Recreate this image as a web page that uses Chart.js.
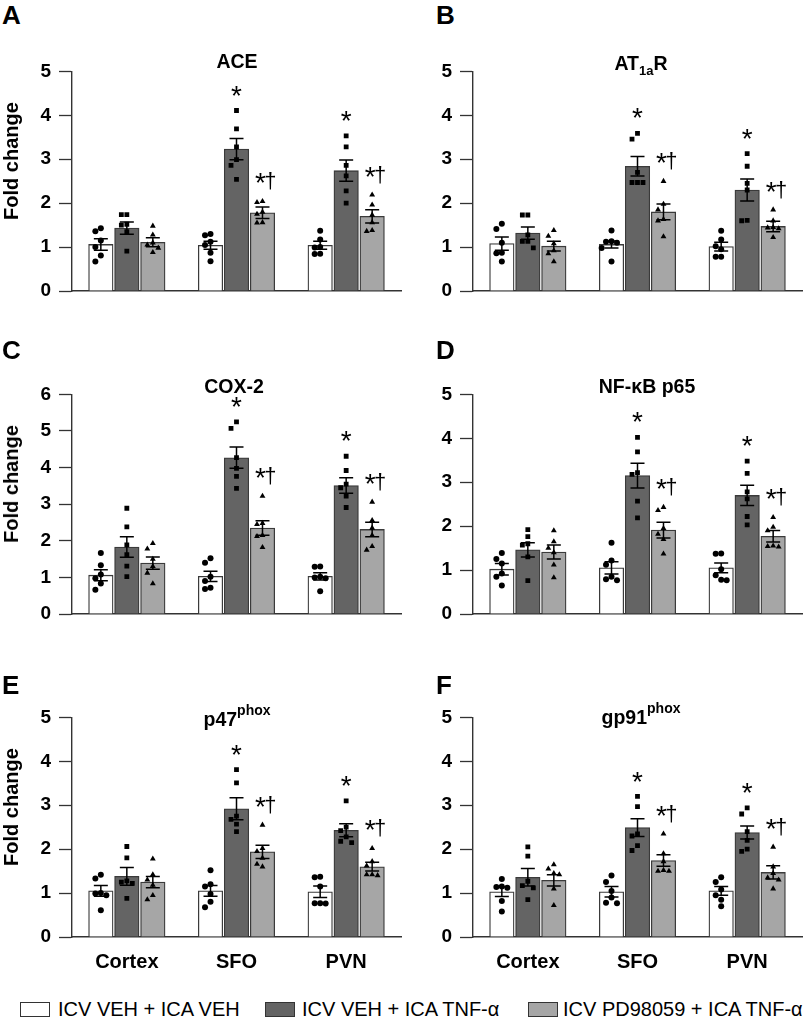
<!DOCTYPE html>
<html>
<head>
<meta charset="utf-8">
<script src="https://cdn.jsdelivr.net/npm/chart.js@4.4.1/dist/chart.umd.min.js"></script>
<style>
  body { margin:0; background:#fff; width:810px; height:1023px; position:relative; overflow:hidden;
         font-family:"Liberation Sans", Arial, sans-serif; color:#000; }
  canvas { position:absolute; }
  .letter { position:absolute; font-weight:bold; font-size:26px; line-height:26px; }
  .ttl { position:absolute; font-weight:bold; font-size:19.5px; line-height:20px; transform:translateX(-50%); white-space:nowrap; }
  .ttl sup { font-size:14px; position:relative; top:1px; vertical-align:top; line-height:0; }
  .ttl sub { font-size:13px; position:relative; top:5px; vertical-align:baseline; line-height:0; }
  .ylab { position:absolute; font-weight:bold; font-size:20px; line-height:20px; white-space:nowrap;
          transform:translate(-50%,-50%) rotate(-90deg); }
  .lg { position:absolute; font-size:20px; line-height:20px; white-space:nowrap; top:999px; }
  .box { position:absolute; box-sizing:border-box; width:30px; height:15px; border:1.5px solid #333; top:1002px; }
</style>
</head>
<body>
<script>
// ---- data ----
const regions = ['Cortex', 'SFO', 'PVN'];
const groups = ['ICV VEH + ICA VEH', 'ICV VEH + ICA TNF-α', 'ICV PD98059 + ICA TNF-α'];
const yMax = [5, 5, 6, 5, 5, 5];
const sigMarks = [['', '', ''], ['', '*', '*'], ['', '*†', '*†']];

// [group][region]
const aceMean = [[1.06, 1.04, 1.04], [1.43, 3.23, 2.74], [1.11, 1.78, 1.70]];
const aceSem  = [[0.13, 0.09, 0.09], [0.14, 0.24, 0.24], [0.10, 0.13, 0.15]];
const acePts = [
  [[1.43, 1.36, 1.15, 1.0, 0.81, 0.67], [1.3, 1.27, 1.12, 1.05, 0.87, 0.68], [1.37, 1.17, 1.0, 0.99, 0.85, 0.84]],
  [[1.74, 1.74, 1.52, 1.5, 1.35, 0.91], [4.11, 3.69, 3.28, 2.99, 2.86, 2.54], [3.53, 3.28, 2.86, 2.62, 2.28, 2.0]],
  [[1.48, 1.28, 1.1, 1.05, 0.98, 0.88], [2.04, 2.02, 1.8, 1.75, 1.56, 1.55], [2.19, 1.96, 1.73, 1.56, 1.38, 1.36]]
];

const at1Mean = [[1.08, 1.06, 1.01], [1.32, 2.84, 2.30], [1.02, 1.80, 1.47]];
const at1Sem  = [[0.15, 0.08, 0.10], [0.14, 0.22, 0.25], [0.11, 0.18, 0.12]];
const at1Pts = [
  [[1.53, 1.41, 1.1, 0.87, 0.86, 0.67], [1.38, 1.13, 1.12, 1.1, 0.98, 0.67], [1.37, 1.17, 1.02, 0.95, 0.78, 0.78]],
  [[1.73, 1.73, 1.28, 1.13, 1.13, 0.98], [3.59, 3.46, 2.7, 2.47, 2.47, 2.47], [3.13, 2.84, 2.45, 2.3, 1.61, 1.6]],
  [[1.38, 1.25, 1.08, 0.92, 0.85, 0.67], [2.5, 1.98, 1.85, 1.63, 1.6, 1.24], [1.85, 1.6, 1.45, 1.44, 1.42, 1.22]]
];

const coxMean = [[1.06, 1.03, 1.03], [1.83, 4.27, 3.51], [1.39, 2.35, 2.31]];
const coxSem  = [[0.15, 0.14, 0.10], [0.28, 0.29, 0.21], [0.17, 0.20, 0.20]];
const coxPts = [
  [[1.67, 1.33, 1.08, 0.98, 0.83, 0.66], [1.52, 1.4, 1.02, 0.9, 0.72, 0.68], [1.3, 1.29, 1.02, 1.0, 0.98, 0.62]],
  [[2.89, 2.38, 1.89, 1.62, 1.31, 1.02], [5.25, 5.07, 4.27, 3.98, 3.76, 3.43], [4.31, 3.92, 3.55, 3.45, 3.22, 2.91]],
  [[1.93, 1.78, 1.5, 1.3, 1.12, 0.83], [3.22, 2.48, 2.45, 2.15, 2.12, 1.82], [3.06, 2.56, 2.35, 2.15, 1.85, 1.75]]
];

const nfkMean = [[1.02, 1.05, 1.05], [1.46, 3.15, 2.70], [1.41, 1.91, 1.77]];
const nfkSem  = [[0.13, 0.14, 0.11], [0.16, 0.28, 0.23], [0.16, 0.18, 0.13]];
const nfkPts = [
  [[1.39, 1.25, 1.15, 0.92, 0.85, 0.65], [1.62, 1.22, 1.12, 0.85, 0.79, 0.77], [1.38, 1.37, 1.02, 0.88, 0.78, 0.77]],
  [[1.92, 1.76, 1.6, 1.57, 1.3, 0.76], [4.02, 3.69, 3.22, 3.18, 2.57, 2.19], [3.48, 3.2, 2.78, 2.62, 2.22, 2.03]],
  [[1.9, 1.65, 1.5, 1.4, 1.12, 0.83], [2.43, 2.36, 1.95, 1.82, 1.7, 1.37], [2.2, 1.98, 1.9, 1.55, 1.54, 1.53]]
];

const p47Mean = [[1.05, 1.05, 1.03], [1.38, 2.92, 2.43], [1.25, 1.94, 1.60]];
const p47Sem  = [[0.12, 0.12, 0.13], [0.20, 0.25, 0.15], [0.13, 0.15, 0.10]];
const p47Pts = [
  [[1.42, 1.33, 1.0, 0.99, 0.95, 0.61], [1.52, 1.2, 1.15, 0.98, 0.8, 0.68], [1.37, 1.36, 1.15, 0.77, 0.77, 0.76]],
  [[2.06, 1.8, 1.28, 1.25, 1.22, 0.88], [3.81, 3.51, 2.75, 2.68, 2.57, 2.4], [3.1, 2.5, 2.42, 2.28, 2.18, 2.15]],
  [[1.78, 1.42, 1.3, 1.18, 0.95, 0.85], [2.55, 2.02, 1.95, 1.8, 1.66, 1.6], [2.02, 1.72, 1.62, 1.42, 1.42, 1.4]]
];

const gp91Mean = [[1.03, 1.03, 1.05], [1.36, 2.49, 2.38], [1.29, 1.74, 1.47]];
const gp91Sem  = [[0.11, 0.12, 0.10], [0.20, 0.20, 0.15], [0.13, 0.13, 0.15]];
const gp91Pts = [
  [[1.32, 1.15, 1.14, 1.12, 0.82, 0.58], [1.4, 1.25, 1.05, 0.9, 0.78, 0.77], [1.36, 1.25, 1.08, 0.95, 0.85, 0.7]],
  [[2.05, 1.84, 1.27, 1.17, 1.12, 0.85], [3.2, 2.97, 2.35, 2.3, 2.08, 1.97], [2.94, 2.8, 2.4, 2.2, 2.0, 1.95]],
  [[1.65, 1.55, 1.45, 1.42, 1.1, 0.72], [2.35, 1.9, 1.72, 1.52, 1.5, 1.5], [2.05, 1.6, 1.45, 1.35, 1.3, 1.1]]
];

// ---- styling / layout ----
const fills = ['#ffffff', '#646464', '#a6a6a6'];
const shapes = ['circle', 'rect', 'triangle'];
const radii = [3, 3.4, 3.4];
const SLOT = 0.237;          // distance between neighbouring bars, in category units
const BAR_PX = 24.5;         // bar thickness
const PAD_T = 14, PLOT_H = 225, XAX_H = 45;
const FONT = '"Liberation Sans", Arial';

const panels = [
  { key: 'A', title: 'ACE', mean: aceMean, sem: aceSem, pts: acePts, ymax: yMax[0],
    left: 0, top: 66, axisL: 72, axisR: 403, tx: 237, tb: 68, ylab: true, xlab: false },
  { key: 'B', title: 'AT<sub>1a</sub>R', mean: at1Mean, sem: at1Sem, pts: at1Pts, ymax: yMax[1],
    left: 405, top: 66, axisL: 473, axisR: 802, tx: 641, tb: 70, ylab: false, xlab: false },
  { key: 'C', title: 'COX-2', mean: coxMean, sem: coxSem, pts: coxPts, ymax: yMax[2],
    left: 0, top: 389, axisL: 72, axisR: 403, tx: 234, tb: 393, ylab: true, xlab: false },
  { key: 'D', title: 'NF-κB p65', mean: nfkMean, sem: nfkSem, pts: nfkPts, ymax: yMax[3],
    left: 405, top: 389, axisL: 473, axisR: 802, tx: 647, tb: 393, ylab: false, xlab: false },
  { key: 'E', title: 'p47<sup>phox</sup>', mean: p47Mean, sem: p47Sem, pts: p47Pts, ymax: yMax[4],
    left: 0, top: 712, axisL: 72, axisR: 403, tx: 237, tb: 726, ylab: true, xlab: true },
  { key: 'F', title: 'gp91<sup>phox</sup>', mean: gp91Mean, sem: gp91Sem, pts: gp91Pts, ymax: yMax[5],
    left: 405, top: 712, axisL: 473, axisR: 802, tx: 641, tb: 724, ylab: false, xlab: true }
];

// bar centre for group g in region r (linear units, region r sits at r)
const barX = (g, r) => r + (g - 1) * SLOT;

// spread points of one bar sideways so they don't sit on top of each other
function swarm(vals, g, ymax) {
  const cand = [0, -0.05, 0.05, -0.09, 0.09];
  const out = [];
  vals.forEach((list, r) => {
    const here = [];
    list.forEach(v => {
      let dx = cand.find(c => here.every(q => Math.abs(q.y - v) > 0.03 * ymax || Math.abs(q.dx - c) > 0.035));
      if (dx === undefined) dx = 0;
      here.push({ y: v, dx: dx });
      out.push({ x: barX(g, r) + dx, y: v });
    });
  });
  return out;
}

const errorBars = {
  id: 'errorBars',
  afterDatasetDraw(chart, args) {
    const ds = chart.data.datasets[args.index];
    if (!ds.sem) return;
    const y = chart.scales.y, ctx = chart.ctx;
    ctx.save();
    ctx.strokeStyle = '#000';
    ctx.lineWidth = 1.5;
    args.meta.data.forEach((bar, i) => {
      const m = ds.data[i].y;
      const yt = y.getPixelForValue(m + ds.sem[i]);
      const yb = y.getPixelForValue(m - ds.sem[i]);
      ctx.beginPath();
      ctx.moveTo(bar.x, yt); ctx.lineTo(bar.x, yb);
      ctx.moveTo(bar.x - 7, yt); ctx.lineTo(bar.x + 7, yt);
      ctx.moveTo(bar.x - 7, yb); ctx.lineTo(bar.x + 7, yb);
      ctx.stroke();
    });
    ctx.restore();
  }
};

const sigLabels = {
  id: 'sigLabels',
  afterDatasetsDraw(chart) {
    const y = chart.scales.y, ctx = chart.ctx;
    ctx.save();
    ctx.fillStyle = '#000';
    ctx.textAlign = 'center';
    ctx.textBaseline = 'alphabetic';
    chart.data.datasets.forEach((ds, di) => {
      if (!ds.marks) return;
      const meta = chart.getDatasetMeta(di);
      ds.marks.forEach((m, i) => {
        if (!m) return;
        const bx = meta.data[i].x;
        const top = Math.max(...ds.pts[i]);
        const cy = y.getPixelForValue(top) - (m.length > 1 ? 24 : 21);
        const starTop = cy - 5;
        ctx.font = '28px ' + FONT;
        ctx.fillText('*', m.length > 1 ? bx - 2 : bx, starTop + 0.716 * 28);
        if (m.length > 1) {
          ctx.font = '22px ' + FONT;
          ctx.fillText('†', bx + 8, starTop + 0.716 * 22);
        }
      });
    });
    ctx.restore();
  }
};

function addDiv(cls, html, css) {
  const d = document.createElement('div');
  d.className = cls;
  d.innerHTML = html;
  Object.assign(d.style, css);
  document.body.appendChild(d);
  return d;
}

panels.forEach(p => {
  const cv = document.createElement('canvas');
  cv.width = 405;
  cv.height = PAD_T + PLOT_H + XAX_H;
  cv.style.left = p.left + 'px';
  cv.style.top = (p.top - PAD_T) + 'px';
  document.body.appendChild(cv);

  const datasets = [];
  for (let g = 0; g < 3; g++) {
    datasets.push({
      type: 'bar', label: groups[g], xAxisID: 'xs',
      data: p.mean[g].map((m, r) => ({ x: barX(g, r), y: m })),
      sem: p.sem[g], pts: p.pts[g], marks: sigMarks[g],
      backgroundColor: fills[g], borderColor: '#3a3a3a', borderWidth: 1.3,
      grouped: false, barThickness: BAR_PX, order: 2
    });
  }
  for (let g = 0; g < 3; g++) {
    datasets.push({
      type: 'scatter', data: swarm(p.pts[g], g, p.ymax), xAxisID: 'xs',
      pointStyle: shapes[g], pointRadius: radii[g], backgroundColor: '#000', borderColor: '#000',
      borderWidth: 0, order: 1
    });
  }

  new Chart(cv, {
    type: 'bar',
    data: { labels: regions, datasets: datasets },
    options: {
      responsive: false,
      animation: false,
      layout: { padding: { top: PAD_T, right: 405 - (p.axisR - p.left), left: 0, bottom: 0 } },
      plugins: { legend: { display: false }, tooltip: { enabled: false } },
      scales: {
        x: {
          type: 'category', offset: true,
          grid: { display: false },
          border: { color: '#333', width: 1.4 },
          ticks: { display: p.xlab, color: '#000', padding: 5,
                   font: { family: FONT, size: 20, weight: 'bold' } },
          afterFit: s => { s.height = XAX_H; }
        },
        xs: { type: 'linear', display: false, offset: false, min: -0.5, max: 2.5 },
        y: {
          min: 0, max: p.ymax,
          ticks: { stepSize: 1, color: '#000', padding: 8,
                   font: { family: FONT, size: 19, weight: 'bold' } },
          grid: { drawOnChartArea: false, tickLength: 13, color: '#333', tickWidth: 1.3 },
          border: { color: '#333', width: 1.4 },
          afterFit: s => { s.width = p.axisL - p.left; }
        }
      }
    },
    plugins: [errorBars, sigLabels]
  });

  const letterTop = p.top - (p.key === 'A' || p.key === 'B' ? 64 : (p.key === 'E' || p.key === 'F' ? 40 : 52));
  addDiv('letter', p.key, { left: (p.left === 0 ? 2 : 436) + 'px', top: letterTop + 'px' });
  addDiv('ttl', p.title, { left: p.tx + 'px', top: (p.tb - 17) + 'px' });
  if (p.ylab) addDiv('ylab', 'Fold change', { left: '11px', top: (p.top + PLOT_H / 2 - 18) + 'px' });
});

// legend
const legendX = [[20, 58], [265, 302], [528, 563]];
groups.forEach((g, i) => {
  addDiv('box', '', { left: legendX[i][0] + 'px', background: fills[i] });
  addDiv('lg', g, { left: legendX[i][1] + 'px' });
});
</script>
</body>
</html>
